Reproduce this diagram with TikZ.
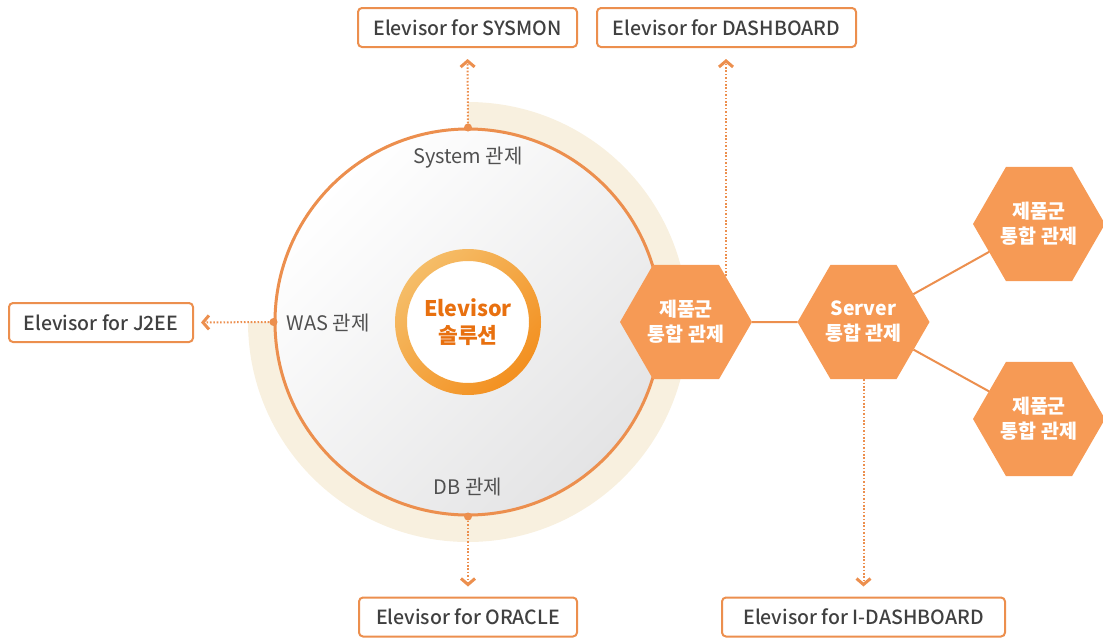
\documentclass[tikz,border=0pt]{standalone}
\usepackage{fontspec}
\setmainfont{Noto Sans CJK KR}
\newfontfamily\medfont{Noto Sans CJK KR Medium}
\usetikzlibrary{shapes.geometric,arrows.meta,calc}
\definecolor{ostroke}{HTML}{EC8F4E}
\definecolor{hexfill}{HTML}{F69A55}
\definecolor{beige}{HTML}{F8F0DF}
\definecolor{ctext}{HTML}{E8700F}
\definecolor{ringa}{HTML}{F5BD68}
\definecolor{ringb}{HTML}{F39020}
\definecolor{boxtext}{HTML}{404040}
\definecolor{lbltext}{HTML}{505050}
\definecolor{circb}{HTML}{E4E4E5}
\tikzset{
 prodbox/.style={draw=ostroke, line width=2pt, rounded corners=4pt, fill=white, text=boxtext, font=\medfont\fontsize{19.5pt}{22pt}\selectfont, minimum height=39pt, inner sep=0pt},
 hexnode/.style={regular polygon, regular polygon sides=6, minimum size=132pt, inner sep=0pt, outer sep=0pt, fill=hexfill, text=white, font=\bfseries\fontsize{19.5pt}{25pt}\selectfont, align=center},
 lbl/.style={text=lbltext, font=\fontsize{20pt}{22pt}\selectfont, inner sep=0pt},
 dotnode/.style={circle, fill=ostroke, minimum size=8pt, inner sep=0pt},
 dotline/.style={draw=ostroke, line width=2pt, dash pattern=on 1.6pt off 1.8pt, -{Straight Barb[length=6pt,width=14pt,line width=3pt]}},
 link/.style={draw=ostroke, line width=2pt},
}
\begin{document}
\begin{tikzpicture}[x=1pt,y=-1pt]
\useasboundingbox (0,0) rectangle (1103,640);
% beige sector
\fill[beige] (468,322) -- ++(0,-220) arc[start angle=90, end angle=-180, radius=220pt] -- cycle;
% big circle
\node[circle, minimum size=386pt, inner sep=0pt, draw=ostroke, line width=3pt, top color=white, bottom color=circb, shading angle=45] (bigc) at (468,322) {};
% inner ring
\fill[white] (468,322) circle (66pt);
\shade[even odd rule, top color=ringa, bottom color=ringb, shading angle=45] (468,322) circle (73pt) (468,322) circle (61pt);
\node[text=ctext, font=\bfseries\fontsize{21.5pt}{27pt}\selectfont, align=center] (core) at (468,322) {Elevisor\\솔루션};
% labels
\node[lbl] (syslbl) at (468,158) {System 관제};
\node[lbl] (waslbl) at (328,323) {WAS 관제};
\node[lbl] (dblbl) at (468,487) {DB 관제};
% boxes
\node[prodbox, minimum width=219pt] (sysmon) at (467.5,27.5) {Elevisor for SYSMON};
\node[prodbox, minimum width=259pt] (dashboard) at (726.5,27.5) {Elevisor for DASHBOARD};
\node[prodbox, minimum width=184pt] (j2ee) at (101,322.5) {Elevisor for J2EE};
\node[prodbox, minimum width=218pt] (oracle) at (468,617) {Elevisor for ORACLE};
\node[prodbox, minimum width=283pt] (idash) at (863.5,617) {Elevisor for I-DASHBOARD};
% hexagons
\node[hexnode] (hex1) at (686,322) {제품군\\통합 관제};
\node[hexnode] (hex2) at (863.5,322) {Server\\통합 관제};
\node[hexnode] (hex3) at (1039,224) {제품군\\통합 관제};
\node[hexnode] (hex4) at (1039,419) {제품군\\통합 관제};
\draw[link] (hex1) -- (hex2);
\draw[link] (hex2) -- (hex3);
\draw[link] (hex2) -- (hex4);
% dots
\node[dotnode] (sysdot) at (bigc.north) {};
\node[dotnode] (wasdot) at (bigc.west) {};
\node[dotnode] (dbdot) at (bigc.south) {};
\coordinate (h1d) at (726,276);
% dotted connectors
\draw[dotline, shorten >=11pt] (sysdot) -- (sysmon.south);
\draw[dotline, shorten >=11pt] (h1d) -- (h1d |- dashboard.south);
\draw[dotline, shorten >=7pt] (wasdot) -- (j2ee.east);
\draw[dotline, shorten >=10pt] (dbdot) -- (oracle.north);
\draw[dotline, shorten >=10pt] (hex2.south) -- (idash.north);
\end{tikzpicture}
\end{document}
